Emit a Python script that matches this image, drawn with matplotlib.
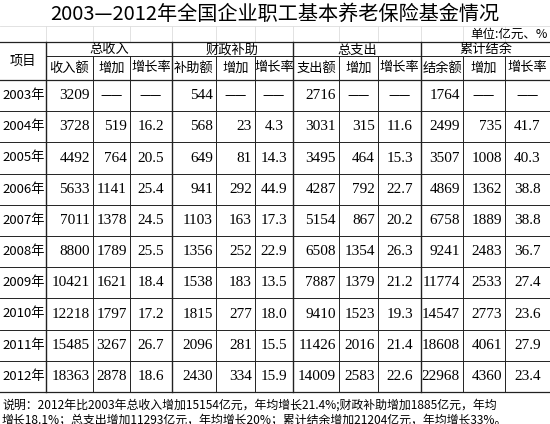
import matplotlib
matplotlib.use('Agg')
import matplotlib.pyplot as plt

plt.rcParams['font.family'] = ['Noto Sans CJK SC', 'DejaVu Sans']

title = '2003—2012年全国企业职工基本养老保险基金情况'
unit = '单位:亿元、%'
groups = ['总收入', '财政补助', '总支出', '累计结余']
subheads = ['收入额', '增加', '增长率', '补助额', '增加', '增长率',
            '支出额', '增加', '增长率', '结余额', '增加', '增长率']
years = ['2003年', '2004年', '2005年', '2006年', '2007年', '2008年',
         '2009年', '2010年', '2011年', '2012年']

income = [3209, 3728, 4492, 5633, 7011, 8800, 10421, 12218, 15485, 18363]
income_inc = [None, 519, 764, 1141, 1378, 1789, 1621, 1797, 3267, 2878]
income_rate = [None, 16.2, 20.5, 25.4, 24.5, 25.5, 18.4, 17.2, 26.7, 18.6]
subsidy = [544, 568, 649, 941, 1103, 1356, 1538, 1815, 2096, 2430]
subsidy_inc = [None, 23, 81, 292, 163, 252, 183, 277, 281, 334]
subsidy_rate = [None, 4.3, 14.3, 44.9, 17.3, 22.9, 13.5, 18.0, 15.5, 15.9]
expense = [2716, 3031, 3495, 4287, 5154, 6508, 7887, 9410, 11426, 14009]
expense_inc = [None, 315, 464, 792, 867, 1354, 1379, 1523, 2016, 2583]
expense_rate = [None, 11.6, 15.3, 22.7, 20.2, 26.3, 21.2, 19.3, 21.4, 22.6]
balance = [1764, 2499, 3507, 4869, 6758, 9241, 11774, 14547, 18608, 22968]
balance_inc = [None, 735, 1008, 1362, 1889, 2483, 2533, 2773, 4061, 4360]
balance_rate = [None, 41.7, 40.3, 38.8, 38.8, 36.7, 27.4, 23.6, 27.9, 23.4]

note1 = '说明：2012年比2003年总收入增加15154亿元，年均增长21.4%;财政补助增加1885亿元，年均'
note2 = '增长18.1%；总支出增加11293亿元，年均增长20%；累计结余增加21204亿元，年均增长33%。'

columns = [income, income_inc, income_rate, subsidy, subsidy_inc, subsidy_rate,
           expense, expense_inc, expense_rate, balance, balance_inc, balance_rate]

# layout in pixels
xs = [0, 46, 93, 130, 172, 216, 255, 293, 339, 378, 421, 463, 505, 550]
top, mid, head_bot = 42, 56, 80
row_h = 31.2
num_font = ['Liberation Serif']

fig = plt.figure(figsize=(5.5, 4.24), dpi=100)
ax = fig.add_axes([0, 0, 1, 1])
ax.set_xlim(0, 550)
ax.set_ylim(424, 0)
ax.axis('off')

ax.text(275, 14, title, ha='center', va='center', fontsize=14.5)

# faint excel grid above table
for x in xs[1:-1]:
    ax.plot([x, x], [26, top], color='#dddddd', lw=0.6)
ax.plot([0, 550], [26, 26], color='#dddddd', lw=0.6)
ax.text(548, 34, unit, ha='right', va='center', fontsize=9)

bottom = head_bot + row_h * len(years)
lc = '#222222'
ax.plot([0, 550], [top, top], color=lc, lw=0.9)
ax.plot([xs[1], 550], [mid, mid], color=lc, lw=0.7)
ax.plot([0, 550], [head_bot, head_bot], color=lc, lw=0.9)
for i in range(1, len(years)):
    y = head_bot + row_h * i
    ax.plot([0, 550], [y, y], color=lc, lw=0.7)
ax.plot([0, 550], [bottom, bottom], color=lc, lw=0.9)
for i, x in enumerate(xs[1:-1], start=1):
    y0 = top if (i - 1) % 3 == 0 else mid
    ax.plot([x, x], [y0, bottom], color=lc, lw=1.0 if (i - 1) % 3 == 0 else 0.7)

ax.text(xs[1] / 2, (top + head_bot) / 2, '项目', ha='center', va='center', fontsize=9.5)
for g, name in enumerate(groups):
    cx = (xs[1 + 3 * g] + xs[4 + 3 * g]) / 2
    ax.text(cx, (top + mid) / 2 + 1, name, ha='center', va='center', fontsize=9.5)
for j, name in enumerate(subheads):
    ax.text((xs[j + 1] + xs[j + 2]) / 2, (mid + head_bot) / 2, name,
            ha='center', va='center', fontsize=9.5)

for r, yr in enumerate(years):
    cy = head_bot + row_h * (r + 0.5)
    ax.text(2, cy, yr, ha='left', va='center', fontsize=9.5)
    for j, col in enumerate(columns):
        v = col[r]
        x0, x1 = xs[j + 1], xs[j + 2]
        if v is None:
            ax.text((x0 + x1) / 2, cy, '——', ha='center', va='center', fontsize=9)
        elif isinstance(v, float):
            ax.text((x0 + x1) / 2, cy, f'{v:.1f}', ha='center', va='center',
                    fontsize=11, family=num_font)
        else:
            ax.text(x1 - 3, cy, str(v), ha='right', va='center',
                    fontsize=11, family=num_font)

ax.text(2, bottom + 13, note1, ha='left', va='center', fontsize=8.6)
ax.text(2, bottom + 28, note2, ha='left', va='center', fontsize=8.6)

fig.savefig('out.png', dpi=100)
